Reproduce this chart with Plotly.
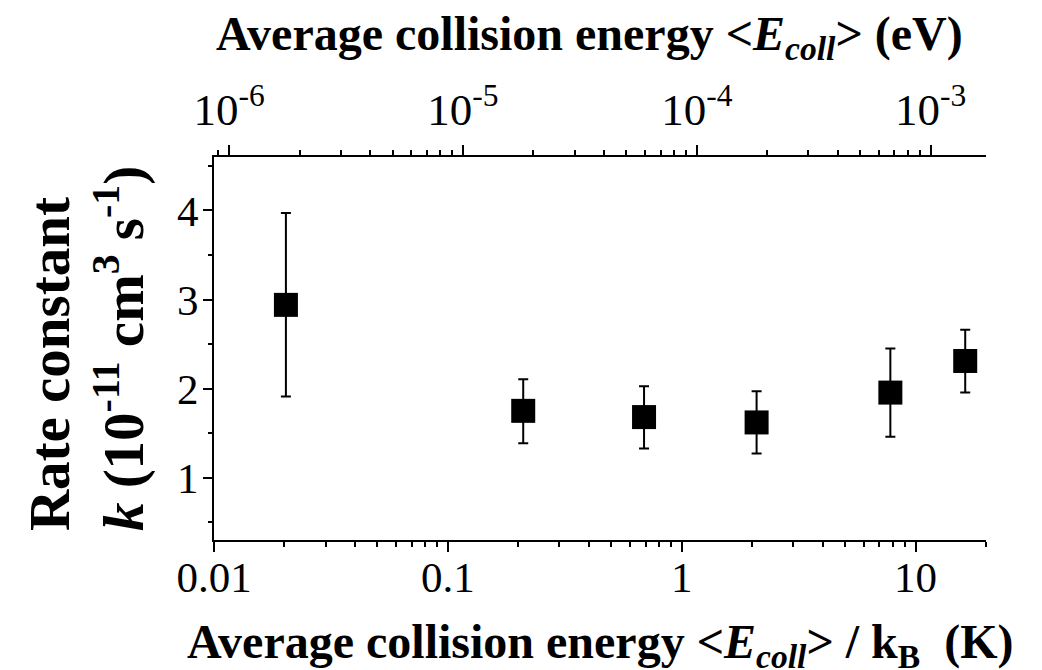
import numpy as np
import plotly.graph_objects as go

# Measured rate constants vs. average collision energy
temperature_K = [0.0203, 0.21, 0.69, 2.09, 7.8, 16.3]
rate_k = [2.94, 1.75, 1.68, 1.62, 1.955, 2.31]
rate_upper = [3.97, 2.105, 2.026, 1.97, 2.45, 2.66]
rate_lower = [1.91, 1.385, 1.326, 1.27, 1.46, 1.955]

# Axis ticks
x_major = [0.01, 0.1, 1, 10]
x_major_text = ["0.01", "0.1", "1", "10"]
x_range = [0.01, 20]
y_major = [1, 2, 3, 4]
y_minor = [0.5, 1.5, 2.5, 3.5, 4.5]
y_range = [0.3, 4.6]
ev_major = [1e-6, 1e-5, 1e-4, 1e-3]
ev_major_text = ["10<sup>-6</sup>", "10<sup>-5</sup>", "10<sup>-4</sup>", "10<sup>-3</sup>"]

KB_EV_PER_K = 8.617333e-5

err_plus = [u - v for u, v in zip(rate_upper, rate_k)]
err_minus = [v - l for v, l in zip(rate_k, rate_lower)]


def log_minor(lo, hi):
    vals = []
    for e in range(int(np.floor(np.log10(lo))), int(np.ceil(np.log10(hi))) + 1):
        for m in range(1, 10):
            v = m * 10.0 ** e
            if lo <= v <= hi and v not in vals:
                vals.append(v)
    return vals


x_minor = log_minor(*x_range)
ev_range = [x_range[0] * KB_EV_PER_K, x_range[1] * KB_EV_PER_K]
ev_minor = log_minor(*ev_range)

FONT = "Liberation Serif"

fig = go.Figure()
fig.add_trace(go.Scatter(
    x=temperature_K, y=rate_k, mode="markers",
    marker=dict(symbol="square", size=24, color="black", line=dict(width=0)),
    error_y=dict(type="data", symmetric=False, array=err_plus, arrayminus=err_minus,
                 color="black", thickness=2, width=5),
    showlegend=False, hoverinfo="x+y",
))
# Same points on the energy scale (keeps the top axis tied to the data)
fig.add_trace(go.Scatter(
    x=[t * KB_EV_PER_K for t in temperature_K], y=rate_k, xaxis="x2", mode="markers",
    marker=dict(opacity=0), showlegend=False, hoverinfo="skip",
))

axis_common = dict(
    showline=True, linecolor="black", linewidth=2, showgrid=False, zeroline=False,
    ticks="outside", tickcolor="black", tickwidth=2,
)
tick_font = dict(family=FONT, size=43, color="black")

fig.update_layout(
    width=1042, height=670,
    margin=dict(l=214, r=56, t=157, b=130),
    plot_bgcolor="white", paper_bgcolor="white",
    xaxis=dict(
        type="log", range=[np.log10(x_range[0]), np.log10(x_range[1])],
        tickmode="array", tickvals=x_major, ticktext=x_major_text, ticklen=10,
        minor=dict(tickmode="array", tickvals=x_minor, ticks="outside", ticklen=5,
                   tickwidth=2, tickcolor="black", showgrid=False),
        ticklabelstandoff=-12, tickfont=tick_font,
        **axis_common,
    ),
    xaxis2=dict(
        type="log", overlaying="x", side="top", anchor="y",
        range=[np.log10(ev_range[0]), np.log10(ev_range[1])],
        tickmode="array", tickvals=ev_major, ticktext=ev_major_text, ticklen=10,
        minor=dict(tickmode="array", tickvals=ev_minor, ticks="outside", ticklen=5,
                   tickwidth=2, tickcolor="black", showgrid=False),
        ticklabelstandoff=2, tickfont=dict(family=FONT, size=45, color="black"),
        **axis_common,
    ),
    yaxis=dict(
        range=y_range, tickmode="array", tickvals=y_major, ticklen=9,
        minor=dict(tickmode="array", tickvals=y_minor, ticks="outside", ticklen=4,
                   tickwidth=2, tickcolor="black", showgrid=False),
        ticklabelstandoff=-4, tickfont=tick_font,
        **axis_common,
    ),
)

title_font = dict(family=FONT, size=48, color="black")

fig.add_annotation(
    text="<b>Average collision energy &lt;<i>E<sub>coll</sub></i>&gt; / k<sub>B</sub>  (K)</b>",
    xref="paper", yref="paper", x=0.5, y=-0.19, xanchor="center", yanchor="top",
    showarrow=False, font=title_font,
)
fig.add_annotation(
    text="<b>Average collision energy &lt;<i>E<sub>coll</sub></i>&gt; (eV)</b>",
    xref="paper", yref="paper", x=0.487, y=1.397, xanchor="center", yanchor="top",
    showarrow=False, font=title_font,
)
fig.add_annotation(
    text="<b>Rate constant</b><br><b><i>k</i> (10<sup>-11</sup> cm<sup>3</sup> s<sup>-1</sup>)</b>",
    xref="paper", yref="paper", x=-0.165, y=0.5, xanchor="center", yanchor="middle",
    textangle=-90, align="left", showarrow=False,
    font=dict(family=FONT, size=57, color="black"),
)

fig.write_html("out.html")
